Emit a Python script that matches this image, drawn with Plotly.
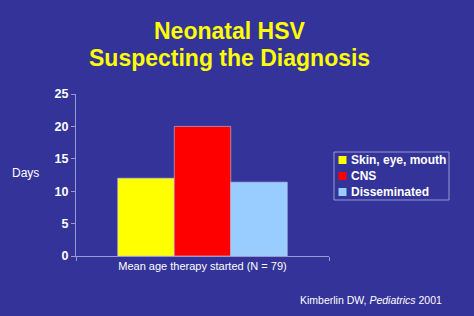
import plotly.graph_objects as go

categories = ["Mean age therapy started (N = 79)"]
series_names = ["Skin, eye, mouth", "CNS", "Disseminated"]
series_values = [[12.0], [20.0], [11.4]]
series_colors = ["#FFFF00", "#FF0000", "#99CCFF"]
y_ticks = [0, 5, 10, 15, 20, 25]
title_lines = ["Neonatal HSV", "Suspecting the Diagnosis"]
citation = "Kimberlin DW, <i>Pediatrics</i> 2001"

BG = "#333399"
LINE = "#9a9ad0"
FONT = "Liberation Sans, Arial, sans-serif"
W, H = 474, 316
L, R, T, B = 76, 145, 94, 60
PW, PH = W - L - R, H - T - B


def px(xp):
    return (xp - L) / PW


def py(yp):
    return (H - B - yp) / PH


fig = go.Figure()
for name, vals, col in zip(series_names, series_values, series_colors):
    fig.add_trace(go.Bar(
        x=categories, y=vals, name=name,
        marker=dict(color=col, line=dict(color="#c8c8e8", width=0.6)),
    ))

fig.update_layout(
    width=W, height=H,
    paper_bgcolor=BG, plot_bgcolor=BG,
    margin=dict(l=L, r=R, t=T, b=B),
    barmode="group", bargap=0.33, bargroupgap=0,
    showlegend=False,
    font=dict(family=FONT, color="white"),
)

fig.update_yaxes(
    range=[0, 25], tickvals=y_ticks, showgrid=False, zeroline=False,
    showline=True, linecolor=LINE, linewidth=1,
    ticks="outside", ticklen=4, tickcolor=LINE,
    tickfont=dict(family=FONT, size=12.5, color="white", weight="bold"),
)
fig.update_xaxes(
    showgrid=False, showline=True, linecolor=LINE, linewidth=1,
    ticks="outside", tickson="boundaries", ticklen=4, tickcolor=LINE,
    tickfont=dict(family=FONT, size=11, color="white"),
)

# title
for i, line in enumerate(title_lines):
    fig.add_annotation(
        text=line, xref="paper", yref="paper",
        x=px(229), y=py(31 + 27 * i), xanchor="center", yanchor="middle",
        showarrow=False,
        font=dict(family=FONT, size=23, color="#FFFF00", weight="bold"),
    )

# y-axis title
fig.add_annotation(
    text="Days", xref="paper", yref="paper",
    x=px(25), y=py(173), xanchor="center", yanchor="middle",
    showarrow=False, font=dict(family=FONT, size=12, color="white"),
)

# legend (box, swatches, labels)
fig.add_shape(type="rect", xref="paper", yref="paper",
              x0=px(334), x1=px(449), y0=py(152), y1=py(200),
              line=dict(color=LINE, width=1), fillcolor="rgba(0,0,0,0)")
for i, (name, col) in enumerate(zip(series_names, series_colors)):
    yc = 160 + 16 * i
    fig.add_shape(type="rect", xref="paper", yref="paper",
                  x0=px(338.5), x1=px(346.5), y0=py(yc + 4), y1=py(yc - 4),
                  line=dict(width=0), fillcolor=col)
    fig.add_annotation(
        text=name, xref="paper", yref="paper",
        x=px(349), y=py(yc), xanchor="left", yanchor="middle",
        showarrow=False,
        font=dict(family=FONT, size=12, color="white", weight="bold"),
    )

# citation
fig.add_annotation(
    text=citation, xref="paper", yref="paper",
    x=px(444), y=py(300), xanchor="right", yanchor="middle",
    showarrow=False, font=dict(family=FONT, size=10.5, color="white"),
)

fig.write_html("out.html")
